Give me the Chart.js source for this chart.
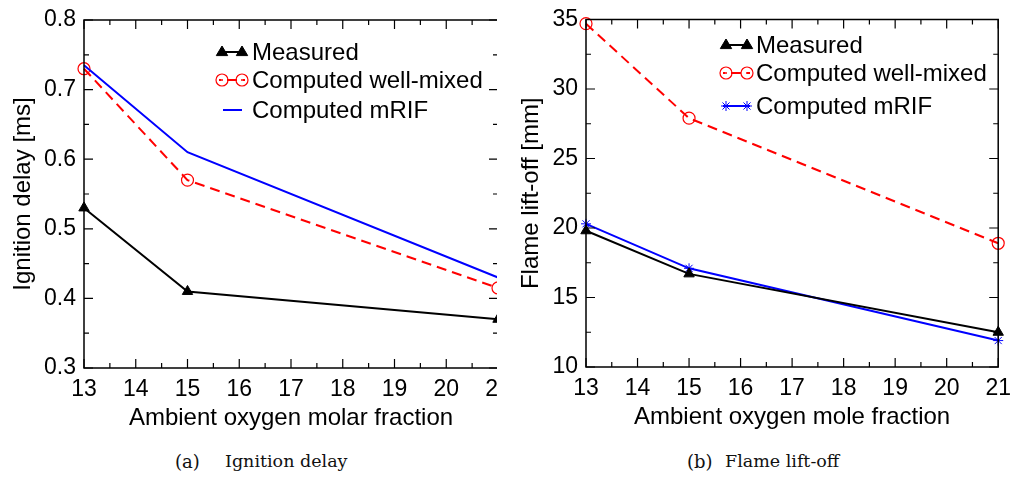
<!DOCTYPE html>
<html>
<head>
<meta charset="utf-8">
<script src="https://cdn.jsdelivr.net/npm/chart.js@4.4.1/dist/chart.umd.min.js"></script>
<style>
  body { margin: 0; background: #fff; width: 1021px; height: 477px; overflow: hidden; position: relative; }
  .box { position: absolute; top: 0; overflow: hidden; }
  .cap { position: absolute; top: 451px; font-family: 'DejaVu Serif', serif; font-size: 17.5px; color: #111; white-space: nowrap; }
  .cap span { position: absolute; top: 0; }
  .cap .tag { font-size: 18px; top: -0.5px; }
</style>
</head>
<body>
<div class="box" style="left:0; width:497px; height:440px;"><canvas id="delayChart" width="530" height="440"></canvas></div>
<div class="box" style="left:510px; width:511px; height:440px;"><canvas id="liftChart" width="511" height="440"></canvas></div>
<div class="cap" style="left:175px;"><span class="tag" style="left:0">(a)</span><span style="left:50px">Ignition delay</span></div>
<div class="cap" style="left:687px;"><span class="tag" style="left:0">(b)</span><span style="left:38px">Flame lift-off</span></div>
<script>
// oxygen fraction (x) for every series
let O2 = [13, 15, 21]

// (a) ignition delay [ms]
let DELAY_MEASURED = [0.53, 0.41, 0.37]
let DELAY_WELLMIXED = [0.73, 0.57, 0.415]
let DELAY_MRIF = [0.735, 0.61, 0.43]

// (b) flame lift-off [mm]
let LIFT_MEASURED = [19.8, 16.7, 12.5]
let LIFT_WELLMIXED = [34.7, 27.9, 18.9]
let LIFT_MRIF = [20.3, 17.1, 11.9]

let LABELS = ['Measured', 'Computed well-mixed', 'Computed mRIF']

const FONT = "'Liberation Sans', Arial, Helvetica, sans-serif"
const RED = '#ff0000'
const BLUE = '#0000ff'

let toPoints = (ys) => O2.map((x, i) => ({ x: x, y: ys[i] }))

// frame + inward ticks on all four sides (major and half-step minor)
const frameTicks = {
    id: 'frameTicks',
    afterDatasetsDraw(chart) {
        const { ctx, chartArea: a, scales } = chart
        ctx.save()
        ctx.strokeStyle = '#000'
        ctx.lineWidth = 1.5
        ctx.setLineDash([])
        ctx.strokeRect(a.left, a.top, a.right - a.left, a.bottom - a.top)
        ctx.lineWidth = 1.2
        const major = 9, minor = 5
        let vals = (s) => {
            let t = s.ticks.map(k => k.value), out = []
            t.forEach((v, i) => {
                out.push([v, major])
                if (i < t.length - 1) out.push([(v + t[i + 1]) / 2, minor])
            })
            return out
        }
        vals(scales.x).forEach(([v, len]) => {
            let px = scales.x.getPixelForValue(v)
            ctx.beginPath()
            ctx.moveTo(px, a.bottom); ctx.lineTo(px, a.bottom - len)
            ctx.moveTo(px, a.top); ctx.lineTo(px, a.top + len)
            ctx.stroke()
        })
        vals(scales.y).forEach(([v, len]) => {
            let py = scales.y.getPixelForValue(v)
            ctx.beginPath()
            ctx.moveTo(a.left, py); ctx.lineTo(a.left + len, py)
            ctx.moveTo(a.right, py); ctx.lineTo(a.right - len, py)
            ctx.stroke()
        })
        ctx.restore()
    }
}

function marker(ctx, ds, x, y) {
    if (!ds.pointRadius) return
    let r = ds.pointRadius
    ctx.save()
    ctx.setLineDash([])
    ctx.lineWidth = ds.pointBorderWidth || 1
    ctx.strokeStyle = ds.borderColor
    ctx.fillStyle = ds.pointBackgroundColor
    ctx.beginPath()
    if (ds.pointStyle === 'triangle') {
        ctx.moveTo(x, y - r)
        ctx.lineTo(x + r * 0.95, y + r * 0.6)
        ctx.lineTo(x - r * 0.95, y + r * 0.6)
        ctx.closePath()
        ctx.fill(); ctx.stroke()
    } else if (ds.pointStyle === 'circle') {
        ctx.arc(x, y, r, 0, Math.PI * 2)
        ctx.stroke()
        ctx.beginPath()
        ctx.fillStyle = ds.borderColor
        ctx.arc(x, y, 1, 0, Math.PI * 2)
        ctx.fill()
    } else if (ds.pointStyle === 'star') {
        for (let k = 0; k < 4; k++) {
            let ang = k * Math.PI / 4
            ctx.moveTo(x - Math.cos(ang) * r, y - Math.sin(ang) * r)
            ctx.lineTo(x + Math.cos(ang) * r, y + Math.sin(ang) * r)
        }
        ctx.stroke()
    }
    ctx.restore()
}

// legend drawn inside the plot like the original figure
const insideLegend = {
    id: 'insideLegend',
    afterDraw(chart, args, opts) {
        const ctx = chart.ctx
        chart.data.datasets.forEach((ds, i) => {
            let row = opts.rows[i]
            ctx.save()
            ctx.strokeStyle = ds.borderColor
            ctx.lineWidth = ds.borderWidth
            ctx.setLineDash(ds.borderDash || [])
            ctx.lineDashOffset = 8
            ctx.beginPath()
            ctx.moveTo(row.x1, row.y)
            ctx.lineTo(row.x2, row.y)
            ctx.stroke()
            ctx.restore()
            marker(ctx, ds, row.m1, row.y)
            marker(ctx, ds, row.m2, row.y)
            ctx.save()
            ctx.fillStyle = '#000'
            ctx.font = '24px ' + FONT
            ctx.textBaseline = 'middle'
            ctx.textAlign = 'left'
            ctx.fillText(ds.label, opts.textX, row.y + 1)
            ctx.restore()
        })
    }
}

function makeChart(el, cfg) {
    return new Chart(el, {
        type: 'line',
        data: {
            datasets: [{
                label: LABELS[0],
                data: toPoints(cfg.measured),
                borderColor: '#000',
                borderWidth: 2,
                pointStyle: 'triangle',
                pointRadius: 6,
                pointBackgroundColor: '#000',
                pointBorderWidth: 1,
                order: 1,
                clip: false
            },
            {
                label: LABELS[1],
                data: toPoints(cfg.wellMixed),
                borderColor: RED,
                borderWidth: 2,
                borderDash: [10, 6],
                pointStyle: 'circle',
                pointRadius: 6,
                pointBackgroundColor: 'rgba(0,0,0,0)',
                pointBorderWidth: 1.2,
                order: 3,
                clip: false
            },
            {
                label: LABELS[2],
                data: toPoints(cfg.mrif),
                borderColor: BLUE,
                borderWidth: 2,
                pointStyle: 'star',
                pointRadius: cfg.mrifMarks ? 5 : 0,
                pointBackgroundColor: BLUE,
                pointBorderWidth: 1,
                order: 2,
                clip: false
            }]
        },
        options: {
            responsive: false,
            animation: false,
            events: [],
            layout: { padding: cfg.padding },
            plugins: {
                legend: { display: false },
                tooltip: { enabled: false },
                insideLegend: cfg.legend
            },
            scales: {
                x: {
                    type: 'linear',
                    min: 13, max: 21,
                    grid: { display: false, drawTicks: false },
                    border: { display: false },
                    afterFit: (s) => { s.height = 70 },
                    ticks: {
                        stepSize: 1,
                        padding: 10,
                        color: '#000',
                        font: { family: FONT, size: 23, lineHeight: 1 }
                    },
                    title: {
                        display: true,
                        text: cfg.xTitle,
                        color: '#000',
                        padding: { top: 0, bottom: 5 },
                        font: { family: FONT, size: 24 }
                    }
                },
                y: {
                    min: cfg.yMin, max: cfg.yMax,
                    grid: { display: false, drawTicks: false },
                    border: { display: false },
                    afterFit: (s) => { s.width = cfg.yWidth },
                    ticks: {
                        stepSize: cfg.yStep,
                        padding: 8,
                        color: '#000',
                        font: { family: FONT, size: 23, lineHeight: 1 },
                        callback: cfg.yFmt
                    },
                    title: {
                        display: true,
                        text: cfg.yTitle,
                        color: '#000',
                        padding: { top: cfg.yTitlePad, bottom: 0 },
                        font: { family: FONT, size: 24 }
                    }
                }
            }
        },
        plugins: [frameTicks, insideLegend]
    })
}

let delayChart = makeChart(document.getElementById('delayChart'), {
    measured: DELAY_MEASURED, wellMixed: DELAY_WELLMIXED, mrif: DELAY_MRIF, mrifMarks: false,
    yMin: 0.3, yMax: 0.8, yStep: 0.1, yFmt: (v) => v.toFixed(1),
    yWidth: 84, yTitlePad: 9.3,
    padding: { left: 0, top: 20, right: 32, bottom: 2 },
    xTitle: 'Ambient oxygen molar fraction',
    yTitle: 'Ignition delay [ms]',
    legend: {
        textX: 252,
        rows: [
            { y: 52, x1: 219, x2: 245, m1: 222, m2: 242 },
            { y: 80, x1: 219, x2: 245, m1: 222, m2: 242 },
            { y: 110, x1: 223, x2: 242, m1: 0, m2: 0 }
        ]
    }
})

let liftChart = makeChart(document.getElementById('liftChart'), {
    measured: LIFT_MEASURED, wellMixed: LIFT_WELLMIXED, mrif: LIFT_MRIF, mrifMarks: true,
    yMin: 10, yMax: 35, yStep: 5, yFmt: (v) => String(v),
    yWidth: 76, yTitlePad: 7.3,
    padding: { left: 0, top: 13, right: 14, bottom: 3 },
    xTitle: 'Ambient oxygen mole fraction',
    yTitle: 'Flame lift-off [mm]',
    legend: {
        textX: 246,
        rows: [
            { y: 45, x1: 213, x2: 240, m1: 216, m2: 237 },
            { y: 73, x1: 213, x2: 240, m1: 216, m2: 237 },
            { y: 106, x1: 213, x2: 240, m1: 216, m2: 237 }
        ]
    }
})
</script>
</body>
</html>
